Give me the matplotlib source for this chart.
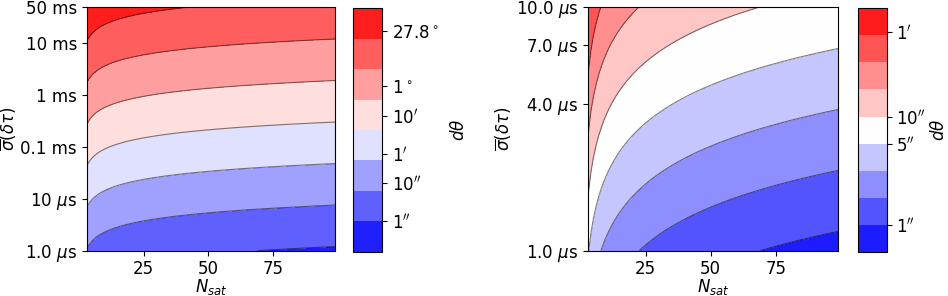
import numpy as np
import matplotlib
matplotlib.use('Agg')
import matplotlib.pyplot as plt

plt.rcParams['font.size'] = 12

# satellites and timing precision (microseconds)
n_sat = np.arange(3, 100)
sigma_left = np.logspace(0, np.log10(5e4), 300)
sigma_right = np.logspace(0, 1, 300)

# d_theta [arcsec] = K * sigma[us] / sqrt(N - 1), K
K_ARCSEC_PER_US = 8.25

levels_left = np.arange(-0.8, 5.61, 0.8)
levels_right = np.arange(-0.25, 2.01, 0.25)

yticks_left = [1, 10, 100, 1000, 1e4, 5e4]
yticklabels_left = [r'1.0 $\mu$s', r'10 $\mu$s', '0.1 ms', '1 ms', '10 ms', '50 ms']
yticks_right = [1, 4, 7, 10]
yticklabels_right = [r'1.0 $\mu$s', r'4.0 $\mu$s', r'7.0 $\mu$s', r'10.0 $\mu$s']

cticks_left = np.log10([1, 10, 60, 600, 3600, 1e5])
cticklabels_left = [r'$1^{\prime\prime}$', r'$10^{\prime\prime}$', r'$1^{\prime}$',
                    r'$10^{\prime}$', r'$1^\circ$', r'$27.8^\circ$']
cticks_right = [0, 0.75, 1, np.log10(60)]
cticklabels_right = [r'$1^{\prime\prime}$', r'$5^{\prime\prime}$', r'$10^{\prime\prime}$', r'$1^{\prime}$']


def field(sigma):
    N, S = np.meshgrid(n_sat, sigma)
    return np.log10(K_ARCSEC_PER_US * S / np.sqrt(N - 1))


def panel(fig, rect, crect, sigma, levels, yticks, yticklabels, cticks, cticklabels, lab_x):
    ax = fig.add_axes(rect)
    cax = fig.add_axes(crect)
    z = field(sigma)
    cf = ax.contourf(n_sat, sigma, z, levels=levels, cmap='bwr')
    ax.contour(n_sat, sigma, z, levels=levels, colors='k', linewidths=0.8, alpha=0.5)
    ax.set_yscale('log')
    ax.set_yticks(yticks)
    ax.set_yticklabels(yticklabels)
    ax.yaxis.set_minor_locator(matplotlib.ticker.NullLocator())
    ax.set_xticks([25, 50, 75])
    ax.set_xlabel(r'$N_{sat}$', labelpad=-1)
    ax.set_ylabel(r'$\overline{\sigma}(\delta\tau)$', labelpad=1)
    cb = fig.colorbar(cf, cax=cax)
    cb.set_ticks(cticks)
    cb.set_ticklabels(cticklabels)
    cb.ax.minorticks_off()
    cb.set_label(r'$d\theta$')
    cb.ax.yaxis.set_label_coords(lab_x, 0.5)
    return ax


fig = plt.figure(figsize=(9.48, 2.96), dpi=100)
panel(fig, [0.0915, 0.153, 0.262, 0.824], [0.372, 0.1497, 0.0312, 0.822],
      sigma_left, levels_left, yticks_left, yticklabels_left,
      cticks_left, cticklabels_left, 3.3)
panel(fig, [0.6206, 0.153, 0.2637, 0.824], [0.9054, 0.1497, 0.030, 0.822],
      sigma_right, levels_right, yticks_right, yticklabels_right,
      cticks_right, cticklabels_right, 2.52)

fig.savefig('out.png', dpi=100)
